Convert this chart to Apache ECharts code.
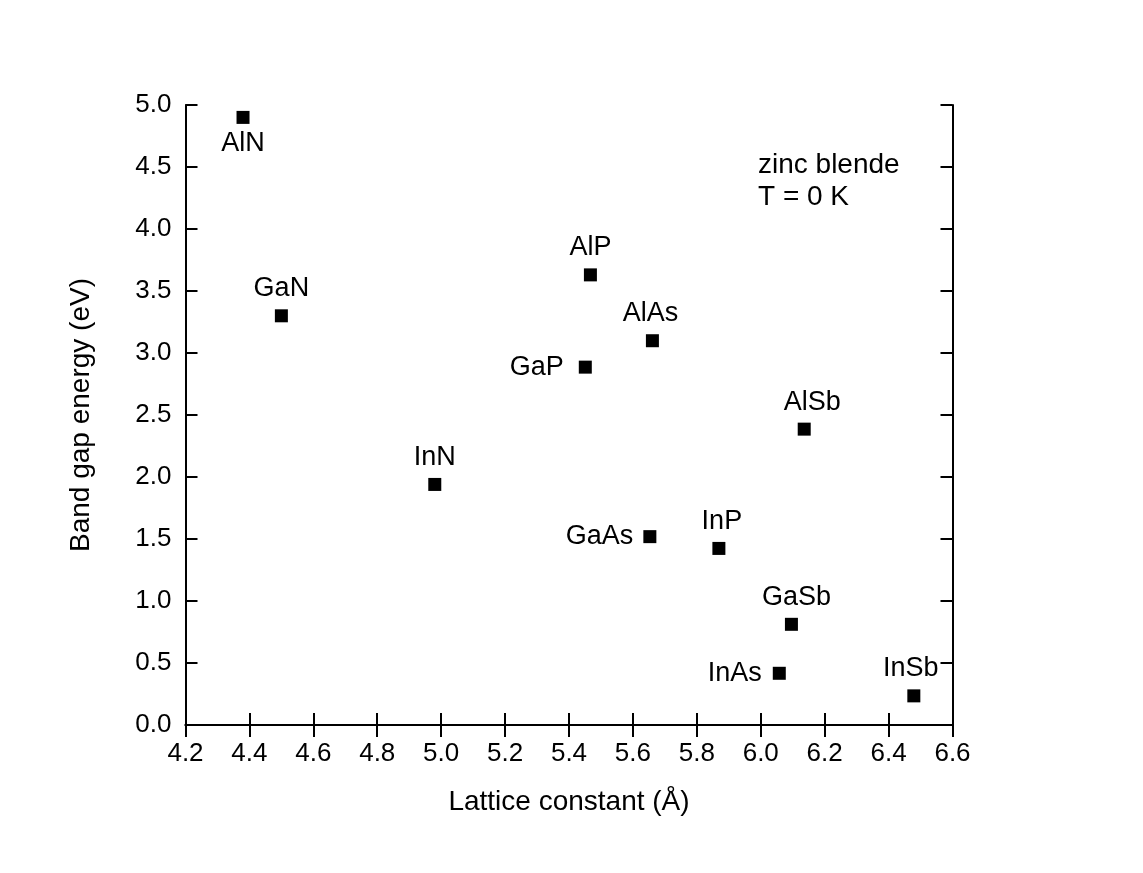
<!DOCTYPE html>
<html>
<head>
<meta charset="utf-8">
<script src="https://cdn.jsdelivr.net/npm/echarts@6/dist/echarts.min.js"></script>
<style>
  html, body { margin: 0; padding: 0; background: #ffffff; }
  #chart { width: 1143px; height: 873px; }
</style>
</head>
<body>
<div id="chart"></div>
<script>
// Zinc-blende III-V semiconductors: lattice constant vs. band gap at T = 0 K
const materials = ['AlN', 'GaN', 'InN', 'AlP', 'AlAs', 'GaP', 'AlSb', 'GaAs', 'InP', 'GaSb', 'InAs', 'InSb'];
const latticeConstant = [4.38, 4.50, 4.98, 5.467, 5.661, 5.451, 6.136, 5.653, 5.869, 6.096, 6.058, 6.479];
const bandGap = [4.90, 3.30, 1.94, 3.63, 3.099, 2.886, 2.386, 1.519, 1.424, 0.812, 0.417, 0.235];

const xTicks = ['4.2', '4.4', '4.6', '4.8', '5.0', '5.2', '5.4', '5.6', '5.8', '6.0', '6.2', '6.4', '6.6'];
const yTicks = ['0.0', '0.5', '1.0', '1.5', '2.0', '2.5', '3.0', '3.5', '4.0', '4.5', '5.0'];

const noteLines = ['zinc blende', 'T = 0 K'];

// where each material's name sits relative to its marker
const labelPlacement = {
  AlN:  { position: 'bottom', distance: 6 },
  GaP:  { position: 'left', distance: 15 },
  GaAs: { position: 'left', distance: 10 },
  InAs: { position: 'left', distance: 11 },
  AlSb: { position: 'top', distance: 7, offset: [8, 0] },
  GaSb: { position: 'top', distance: 7, offset: [5, 0] },
  InP:  { position: 'top', distance: 7, offset: [3, 0] },
  InSb: { position: 'top', distance: 7, offset: [-3, 0] },
  AlAs: { position: 'top', distance: 7, offset: [-2, 0] }
};

const FONT = '"Liberation Sans", Arial, sans-serif';

const points = materials.map((name, i) => {
  const p = labelPlacement[name] || { position: 'top', distance: 7 };
  return {
    name: name,
    value: [latticeConstant[i], bandGap[i]],
    label: Object.assign({ show: true, formatter: name }, p)
  };
});

const xMin = parseFloat(xTicks[0]), xMax = parseFloat(xTicks[xTicks.length - 1]);
const yMin = parseFloat(yTicks[0]), yMax = parseFloat(yTicks[yTicks.length - 1]);

const axisLine = { show: true, lineStyle: { color: '#000', width: 2 } };
const axisTick = { show: true, inside: true, length: 12, lineStyle: { color: '#000', width: 2 } };

const chart = echarts.init(document.getElementById('chart'), null, { renderer: 'canvas' });

chart.setOption({
  backgroundColor: '#ffffff',
  animation: false,
  grid: { left: 185.5, right: 190.5, top: 105, bottom: 148, containLabel: false },
  xAxis: [
    {
      type: 'value', position: 'bottom',
      min: xMin, max: xMax, interval: 0.2,
      name: 'Lattice constant (Å)', nameLocation: 'middle', nameGap: 63,
      nameTextStyle: { color: '#000', fontSize: 28, fontFamily: FONT },
      axisLine: axisLine, axisTick: axisTick, splitLine: { show: false },
      axisLabel: {
        color: '#000', fontSize: 26, fontFamily: FONT, margin: 16,
        formatter: v => xTicks[Math.round((v - xMin) / 0.2)] || ''
      }
    },
    {
      type: 'value', position: 'top',
      min: xMin, max: xMax, interval: 0.2,
      axisLine: axisLine, axisTick: axisTick, splitLine: { show: false },
      axisLabel: { show: false }
    }
  ],
  yAxis: [
    {
      type: 'value', position: 'left',
      min: yMin, max: yMax, interval: 0.5,
      name: 'Band gap energy (eV)', nameLocation: 'middle', nameGap: 90, nameRotate: 90,
      nameTextStyle: { color: '#000', fontSize: 28, fontFamily: FONT },
      axisLine: axisLine, axisTick: axisTick, splitLine: { show: false },
      axisLabel: {
        color: '#000', fontSize: 26, fontFamily: FONT, margin: 14,
        formatter: v => yTicks[Math.round((v - yMin) / 0.5)] || ''
      }
    },
    {
      type: 'value', position: 'right',
      min: yMin, max: yMax, interval: 0.5,
      axisLine: axisLine, axisTick: axisTick, splitLine: { show: false },
      axisLabel: { show: false }
    }
  ],
  series: [
    {
      type: 'scatter',
      xAxisIndex: 0, yAxisIndex: 0,
      symbol: 'rect', symbolSize: 13,
      itemStyle: { color: '#000', opacity: 1 },
      label: { color: '#000', fontSize: 27, fontFamily: FONT },
      data: points,
      z: 5
    }
  ],
  graphic: noteLines.map((t, i) => ({
    type: 'text',
    left: 758, top: 151 + i * 32,
    style: { text: t, fill: '#000', font: '28px ' + FONT }
  }))
});
</script>
</body>
</html>
